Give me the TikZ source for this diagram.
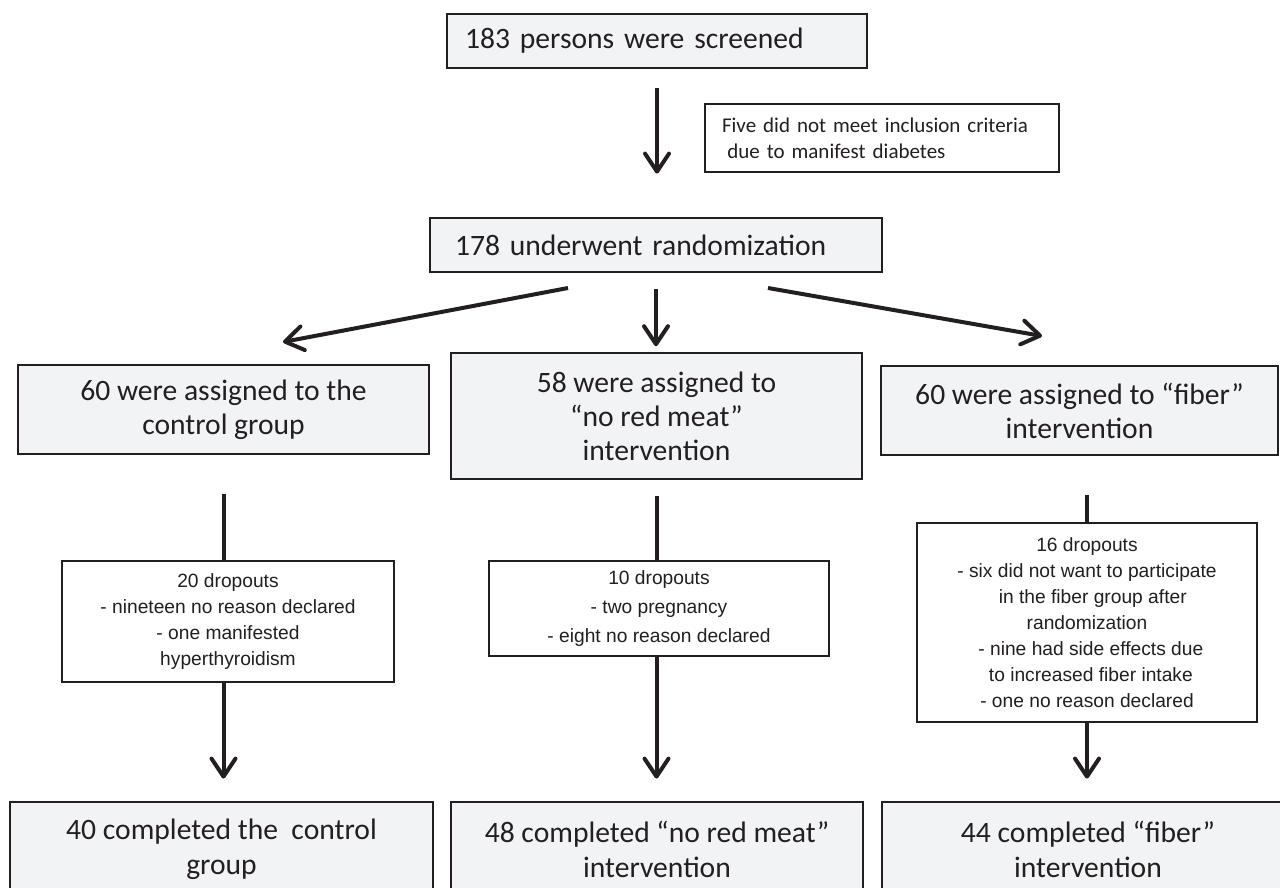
\documentclass[tikz,border=0pt]{standalone}
\usepackage{fontspec}
\setmainfont{Carlito}
\newfontfamily\dropfont{Liberation Sans}
\usetikzlibrary{arrows.meta}
\definecolor{boxfill}{RGB}{242,243,245}
\definecolor{ink}{RGB}{35,31,32}
\tikzset{
  bigbox/.style={draw=ink, fill=boxfill, line width=1.4pt, inner sep=0pt,
    font=\fontsize{14.8}{17.5}\selectfont, text=ink},
  groupbox/.style={draw=ink, fill=boxfill, line width=0.8pt, inner sep=0pt, align=center,
    font=\fontsize{14.8}{17}\selectfont, text=ink},
  dropbox/.style={draw=ink, fill=white, line width=0.8pt, inner sep=0pt, align=center,
    font=\dropfont\fontsize{9.6}{13}\selectfont, text=ink},
  notebox/.style={draw=ink, fill=white, line width=0.8pt, inner ysep=0pt, inner xsep=8.5pt,
    align=left, font=\fontsize{10.5}{13}\selectfont, text=ink},
  link/.style={draw=ink, line width=2pt},
  flow/.style={link, -{Straight Barb[length=9pt,width=12pt,round]}}
}
\begin{document}
\begin{tikzpicture}[x=0.5pt,y=-0.5pt]
  \useasboundingbox (0,0) rectangle (1280,888);
  \clip (0,0) rectangle (1280,888);
  \path
    (657,41) node[bigbox, text width=192pt, inner xsep=9pt, align=left, minimum height=27pt] (screen)
      {183 persons were screened}
    (882,138) node[notebox, text width=160pt, minimum height=34pt] (note)
      {Five did not meet inclusion criteria\\\hspace{0.25em}due to manifest diabetes}
    (656,245) node[bigbox, text width=201pt, inner xsep=12.5pt, align=left, minimum height=27pt] (rand)
      {178 underwent randomization}
    (223.5,409.5) node[groupbox, minimum width=205.5pt, minimum height=44.5pt] (ctrl)
      {60 were assigned to the\\control group}
    (656.5,416) node[groupbox, minimum width=205.5pt, minimum height=63pt] (meat)
      {58 were assigned to\\“no red meat”\\intervention}
    (1079.5,410.5) node[groupbox, minimum width=198.5pt, minimum height=44.5pt] (fiber)
      {60 were assigned to “fiber”\\intervention}
    (228,621.5) node[dropbox, minimum width=166pt, minimum height=60.5pt] (drop1)
      {20 dropouts\\- nineteen no reason declared\\- one manifested\\hyperthyroidism}
    (659,608.5) node[dropbox, font=\dropfont\fontsize{9.6}{14.5}\selectfont, minimum width=170pt, minimum height=47.5pt] (drop2)
      {10 dropouts\\- two pregnancy\\- eight no reason declared}
    (1087,622.5) node[dropbox, minimum width=170pt, minimum height=99.5pt] (drop3)
      {16 dropouts\\- six did not want to participate\\\hspace{0.6em}in the fiber group after\\randomization\\\hspace{0.4em}- nine had side effects due\\\hspace{0.4em}to increased fiber intake\\- one no reason declared}
    (221.5,849) node[bigbox, align=center, minimum width=211.5pt, minimum height=47pt] (done1)
      {40 completed the\ \ control\\group}
    (657,849) node[bigbox, align=center, minimum width=206pt, minimum height=47pt] (done2)
      {48 completed “no red meat”\\intervention}
    (1088,849) node[bigbox, align=center, minimum width=206pt, minimum height=47pt] (done3)
      {44 completed “fiber”\\intervention};
  % free ends of the slanted arrows
  \coordinate (rl) at (568,288);
  \coordinate (rr) at (768,288);
  \coordinate (tl) at (283,342);
  \coordinate (tr) at (1042,336);
  \begin{scope}
    \draw[flow, shorten <=9.5pt, shorten >=21.5pt] (screen.south) -- (screen.south |- rand.north);
    \draw[flow] (rl) -- (tl);
    \draw[flow, shorten <=8pt, shorten >=3pt] (rand.south) -- (rand.south |- meat.north);
    \draw[flow] (rr) -- (tr);
    \draw[link, shorten <=19.5pt] (ctrl.south) -- (ctrl.south |- drop1.north);
    \draw[link, shorten <=8pt] (meat.south) -- (meat.south |- drop2.north);
    \draw[link, shorten <=19.5pt] (drop3.north |- fiber.south) -- (drop3.north);
    \draw[flow, shorten >=11pt] (ctrl.south |- drop1.south) -- (ctrl.south |- done1.north);
    \draw[flow, shorten >=11pt] (meat.south |- drop2.south) -- (meat.south |- done2.north);
    \draw[flow, shorten >=11pt] (drop3.south) -- (drop3.south |- done3.north);
  \end{scope}
\end{tikzpicture}
\end{document}
